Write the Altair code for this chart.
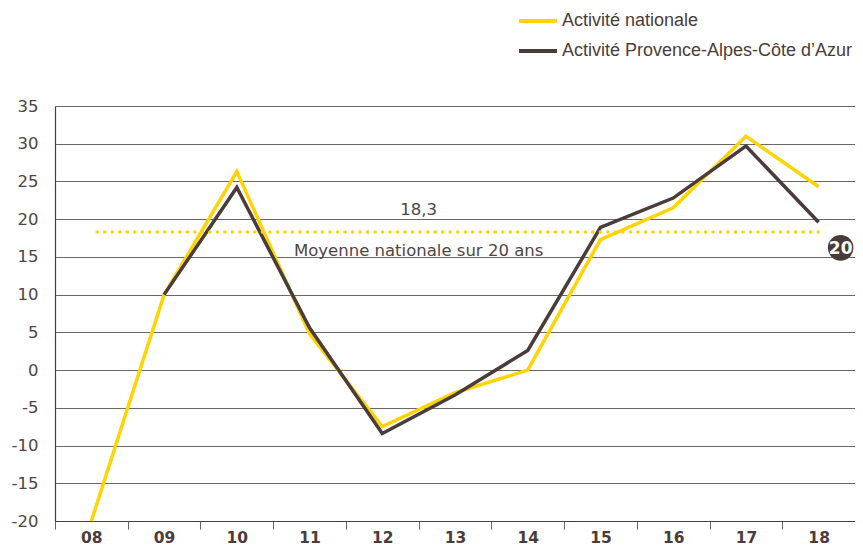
import altair as alt
import pandas as pd

years = ["08", "09", "10", "11", "12", "13", "14", "15", "16", "17", "18"]
national = [-20, 10, 26.3, 4.8, -7.5, -3.0, 0, 17.3, 21.5, 31.0, 24.3]
paca = [None, 10, 24.2, 5.6, -8.4, -3.3, 2.6, 18.9, 22.8, 29.7, 19.6]
series_names = ["Activité nationale", "Activité Provence-Alpes-Côte d’Azur"]
series_colors = ["#FFD400", "#4a3c3a"]
y_ticks = [-20, -15, -10, -5, 0, 5, 10, 15, 20, 25, 30, 35]
average_value = 18.3
average_label = "18,3"
average_caption = "Moyenne nationale sur 20 ans"
badge_text = "20"
badge_value = 16.2

rows = []
for y, n, p in zip(years, national, paca):
    rows.append({"year": y, "series": series_names[0], "value": n})
    if p is not None:
        rows.append({"year": y, "series": series_names[1], "value": p})
df = pd.DataFrame(rows)

FONT = "DejaVu Sans"
DARK = "#4a3c3a"
GREY_TXT = "#4f4545"

xscale = alt.Scale(type="band", domain=years, paddingInner=0, paddingOuter=0)
yscale = alt.Scale(domain=[-20, 35], nice=False, zero=False)
x_axis = alt.Axis(
    labelAngle=0, labelFontSize=15.5, labelFontWeight="bold", labelColor=DARK,
    labelFont=FONT, tickColor="#6b6060", tickSize=8, tickBand="extent",
    domainColor=DARK, domainWidth=1.2, labelPadding=1, grid=False,
)
y_axis = alt.Axis(
    values=y_ticks, labelFontSize=16.5, labelColor=GREY_TXT,
    labelFont=FONT, tickSize=0, labelPadding=17, grid=True,
    gridColor="#6e6462", gridWidth=1, domainColor=DARK, domainWidth=1.2,
    labelOverlap=False, labelExpr="'' + datum.value",
)

def X(field, **kw):
    return alt.X(field, scale=xscale, title=None, axis=x_axis, **kw)

def Y(field):
    return alt.Y(field, scale=yscale, title=None, axis=y_axis)

color = alt.Color(
    "series:N",
    scale=alt.Scale(domain=series_names, range=series_colors),
    legend=alt.Legend(
        title=None, orient="none", legendX=462, legendY=-106,
        labelFontSize=18, labelColor=DARK, labelFont="Liberation Sans", labelLimit=0,
        symbolType="stroke", symbolStrokeWidth=4, symbolSize=1444,
        rowPadding=-16, labelOffset=3,
    ),
)

base = alt.Chart(df)
line_nat = base.transform_filter(alt.datum.series == series_names[0]).mark_line(
    strokeWidth=3.5, strokeJoin="miter"
).encode(x=X("year:N"), y=Y("value:Q"), color=color)
line_paca = base.transform_filter(alt.datum.series == series_names[1]).mark_line(
    strokeWidth=3.5, strokeJoin="miter"
).encode(x=X("year:N"), y=Y("value:Q"), color=color)

avg_df = pd.DataFrame({"start": [years[0]], "end": [years[-1]], "value": [average_value]})
avg_rule = alt.Chart(avg_df).mark_rule(
    color="#FFD400", strokeWidth=3.5, strokeDash=[0.01, 7.5], strokeCap="round"
).encode(
    x=X("start:N", bandPosition=0.58),
    x2=alt.X2("end:N", bandPosition=0.5),
    y=Y("value:Q"),
)

ann_df = pd.DataFrame({"year": [years[5]], "value": [average_value],
                       "label": [average_label], "caption": [average_caption]})
ann_label = alt.Chart(ann_df).mark_text(
    fontSize=16.5, font=FONT, color=GREY_TXT, dy=-22
).encode(x=X("year:N", bandPosition=0), y=Y("value:Q"), text="label:N")
ann_caption = alt.Chart(ann_df).mark_text(
    fontSize=16.5, font=FONT, color=GREY_TXT, dy=19
).encode(x=X("year:N", bandPosition=0), y=Y("value:Q"), text="caption:N")

badge_df = pd.DataFrame({"year": [years[-1]], "value": [badge_value], "label": [badge_text]})
badge_circle = alt.Chart(badge_df).mark_point(
    filled=True, shape="circle", size=660, color=DARK, opacity=1, xOffset=22
).encode(x=X("year:N"), y=Y("value:Q"))
badge_txt = alt.Chart(badge_df).mark_text(
    fontSize=17, fontWeight="bold", font=FONT, color="white", xOffset=22, dy=1
).encode(x=X("year:N"), y=Y("value:Q"), text="label:N")

chart = alt.layer(
    line_nat, line_paca, avg_rule, ann_label, ann_caption, badge_circle, badge_txt
).properties(
    width=800, height=415,
    autosize=alt.AutoSizeParams(type="none"),
    padding={"left": 47, "top": 98, "right": 0, "bottom": 24},
).configure_view(stroke=None)

chart.save("out.html", embed_options={"renderer": "svg", "actions": False})
